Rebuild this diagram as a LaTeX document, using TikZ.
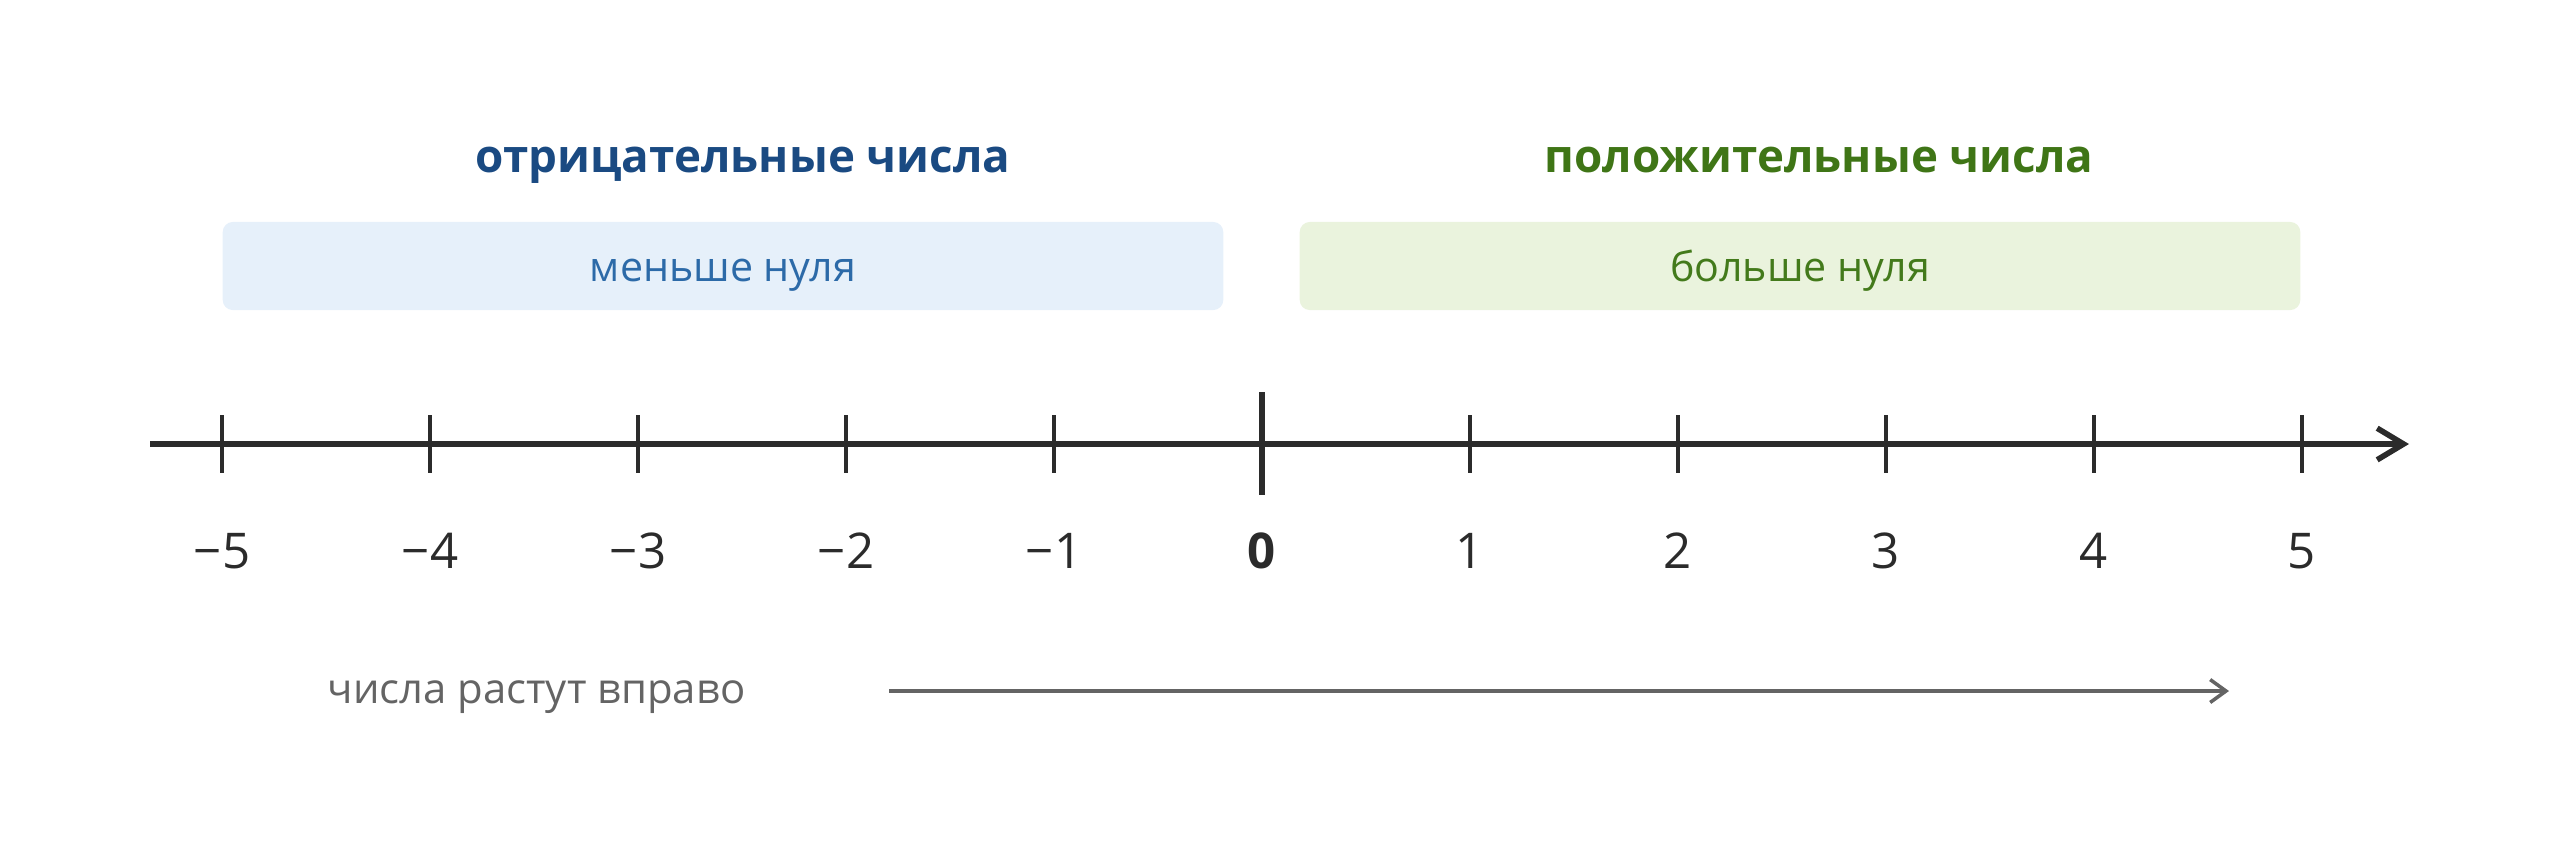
\documentclass[tikz,border=0pt]{standalone}
\usepackage{fontspec}
\setmainfont{Open Sans}
\usetikzlibrary{arrows.meta,positioning}
\definecolor{negdark}{HTML}{1A4A82}
\definecolor{negtext}{HTML}{2C6AA8}
\definecolor{negfill}{HTML}{E6F0FA}
\definecolor{posdark}{HTML}{3F7516}
\definecolor{postext}{HTML}{437A1B}
\definecolor{posfill}{HTML}{EAF3DD}
\definecolor{axisgray}{HTML}{2B2B2B}
\definecolor{notegray}{HTML}{646464}
\tikzset{
  heading/.style={anchor=base, inner sep=0pt, font=\fontsize{13}{16}\selectfont\bfseries},
  zonebox/.style={rounded corners=0.1cm, minimum width=10cm, minimum height=0.88cm, inner sep=0pt},
  zonetext/.style={anchor=base, inner sep=0pt, font=\fontsize{11.7}{14}\selectfont},
  ticklabel/.style={font=\fontsize{14}{17}\selectfont, text=axisgray, inner sep=0pt},
}

\begin{document}
\begin{tikzpicture}[x=0.01cm,y=-0.01cm]
        \useasboundingbox (0,0) rectangle (2560,853);
        \def\gap{208}
        % headings and boxes
        \node[heading, text=negdark] (neghead) at (743,172) {отрицательные числа};
        \node[heading, text=posdark] (poshead) at (1819,172) {положительные числа};
        \node[zonebox, fill=negfill] (negbox) at (723,266) {};
        \node[zonebox, fill=posfill] (posbox) at (1800,266) {};
        \node[zonetext, text=negtext] (negnote) at (723,281) {меньше нуля};
        \node[zonetext, text=postext] (posnote) at (1800,281) {больше нуля};
        % the axis
        \coordinate (axisstart) at (150,444);
        \coordinate (axisend) at (2409,444);
        \draw[axisgray, line width=1.5pt, -{Straight Barb[length=7.5pt,width=9pt,line width=1.6pt]}] (axisstart) -- (axisend);
        \foreach \i/\t in {0/−5,1/−4,2/−3,3/−2,4/−1,6/1,7/2,8/3,9/4,10/5} {
          \draw[axisgray, line width=0.95pt] (222+\gap*\i,415) -- (222+\gap*\i,473);
          \node[ticklabel] (n\i) at (222+\gap*\i,551) {\t};
        }
        \draw[axisgray, line width=1.7pt] (222+\gap*5,392) -- (222+\gap*5,495);
        \node[ticklabel, font=\fontsize{14}{17}\selectfont\bfseries] (n5) at (222+\gap*5,551) {0};
        % direction note
        \node[anchor=base west, inner sep=0pt, text=notegray, font=\fontsize{11.9}{14}\selectfont] (note) at (327,703) {числа растут вправо};
        \coordinate (growstart) at (889,691);
        \coordinate (growend) at (2229,691);
        \draw[notegray, line width=1pt, -{Straight Barb[length=4.5pt,width=6.5pt,line width=1pt]}] (growstart) -- (growend);
      \end{tikzpicture}
\end{document}
